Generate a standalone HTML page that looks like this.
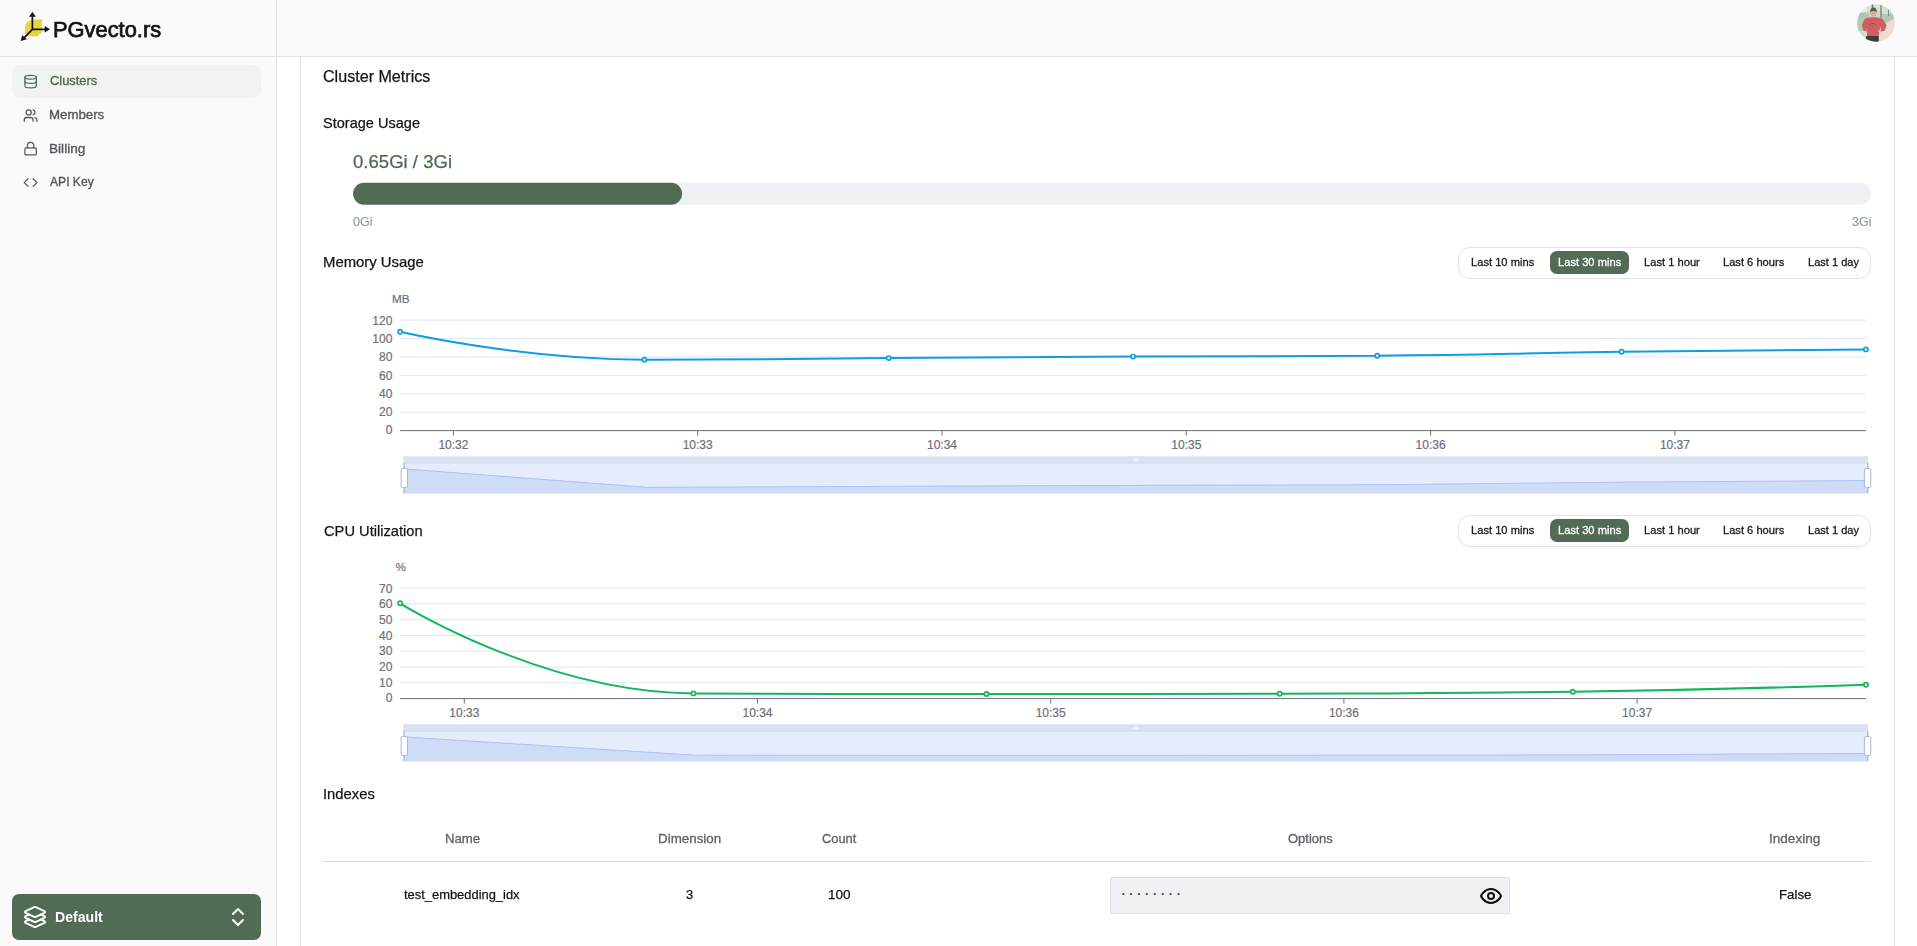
<!DOCTYPE html>
<html lang="en"><head><meta charset="utf-8"><title>PGvecto.rs Cloud - Cluster Metrics</title>
<style>
*{box-sizing:border-box}
html,body{margin:0;padding:0}
body{width:1917px;height:946px;overflow:hidden;background:#fff;position:relative;font-family:"Liberation Sans", sans-serif;}
.t{position:absolute;white-space:nowrap;line-height:1;transform-origin:0 0;display:block}
#hdr{position:absolute;left:0;top:0;width:1917px;height:57px;background:#fafafa;border-bottom:1px solid #e3e3e6}
#side{position:absolute;left:0;top:0;width:277px;height:946px;background:#fafafa;border-right:1px solid #e3e3e6}
#hline{position:absolute;left:0;top:56px;width:1917px;height:1px;background:#e3e3e6}
#panel{position:absolute;left:300px;top:57px;width:1595px;height:900px;background:#fff;border-left:1px solid #e3e3e6;border-right:1px solid #e3e3e6}
#navact{position:absolute;left:12px;top:65px;width:249px;height:33px;border-radius:8px;background:#f2f2f3}
#proj{position:absolute;left:12px;top:894px;width:249px;height:46px;border-radius:7px;background:#516b54}
.grp{position:absolute;left:1458px;width:413px;height:32px;border:1px solid #e2e2e6;border-radius:12px;background:#fff}
.act{position:absolute;left:1550px;width:79px;height:23px;border-radius:7px;background:#516b54}
#thline{position:absolute;left:323px;top:860.5px;width:1548px;height:1px;background:#dedee2}
#inp{position:absolute;left:1110px;top:877px;width:400px;height:36.5px;background:#f0f1f4;border:1px solid #dfe1e7;border-radius:2px}
.dots{position:absolute;left:1120.2px;top:883px;font-size:18px;letter-spacing:1.9px;color:#3f4656;line-height:20px;white-space:nowrap}
svg{position:absolute;overflow:visible}
.ic{fill:none;stroke-width:2;stroke-linecap:round;stroke-linejoin:round}
.ax{font-family:"Liberation Sans", sans-serif;font-size:12px;fill:#6E7079;stroke:#6E7079;stroke-width:0.2px}
</style></head>
<body>
<div id="hdr"></div>
<div id="side"></div>
<div id="hline"></div>
<div id="panel"></div>
<div id="navact"></div>
<div id="proj"></div>
<div class="grp" style="top:247px"></div><div class="act" style="top:251px"></div><div class="grp" style="top:515px"></div><div class="act" style="top:519px"></div>
<div id="thline"></div>
<div id="inp"></div>
<div class="dots">········</div>

<!-- logo -->
<svg style="left:0;top:0" width="60" height="56" viewBox="0 0 60 56">
<polygon points="30.7,20 42.1,19.3 42.1,32.35 37.1,36.4 28.3,36.15 25.2,33.5 25.2,24" fill="#e4d644"/>
<g stroke="#12140f" stroke-width="1.7" fill="none"><path d="M32.4 29.3V16M32.4 29.3H45.5M32.4 29.3L24 37.9"/></g>
<g fill="#12140f"><polygon points="32.4,11.9 29,16.7 35.9,16.7"/><polygon points="50,29.3 44.7,25.9 44.7,32.6"/><polygon points="20.7,40.9 22.1,35.2 26.9,39.2"/></g>
</svg>

<!-- nav icons (lucide) -->
<svg class="ic" style="left:22.90px;top:73.80px" width="15.2" height="15.2" viewBox="0 0 24 24" stroke="#4d6b50"><ellipse cx="12" cy="5" rx="9" ry="3"/><path d="M3 5V19A9 3 0 0 0 21 19V5"/><path d="M3 12A9 3 0 0 0 21 12"/></svg>
<svg class="ic" style="left:22.90px;top:107.50px" width="15.2" height="15.2" viewBox="0 0 24 24" stroke="#55555e"><path d="M16 21v-2a4 4 0 0 0-4-4H6a4 4 0 0 0-4 4v2"/><circle cx="9" cy="7" r="4"/><path d="M22 21v-2a4 4 0 0 0-3-3.87"/><path d="M16 3.13a4 4 0 0 1 0 7.75"/></svg>
<svg class="ic" style="left:22.90px;top:141.20px" width="15.2" height="15.2" viewBox="0 0 24 24" stroke="#55555e"><rect width="18" height="11" x="3" y="11" rx="2" ry="2"/><path d="M7 11V7a5 5 0 0 1 10 0v4"/></svg>
<svg class="ic" style="left:22.90px;top:174.90px" width="15.2" height="15.2" viewBox="0 0 24 24" stroke="#55555e"><polyline points="16 18 22 12 16 6"/><polyline points="8 6 2 12 8 18"/></svg>

<!-- project switcher icons -->
<svg class="ic" style="left:23px;top:905px" width="24" height="24" viewBox="0 0 24 24" stroke="#fff"><path d="m12.83 2.18a2 2 0 0 0-1.66 0L2.6 6.08a1 1 0 0 0 0 1.83l8.58 3.91a2 2 0 0 0 1.66 0l8.58-3.9a1 1 0 0 0 0-1.83Z"/><path d="m6.08 9.5-3.5 1.6a1 1 0 0 0 0 1.81l8.6 3.91a2 2 0 0 0 1.65 0l8.58-3.9a1 1 0 0 0 0-1.83l-3.5-1.59"/><path d="m6.08 14.5-3.5 1.6a1 1 0 0 0 0 1.81l8.6 3.91a2 2 0 0 0 1.65 0l8.58-3.9a1 1 0 0 0 0-1.83l-3.5-1.59"/></svg>
<svg class="ic" style="left:226px;top:905px" width="24" height="24" viewBox="0 0 24 24" stroke="#fff"><path d="m7 15 5 5 5-5"/><path d="m7 9 5-5 5 5"/></svg>

<!-- eye -->
<svg class="ic" style="left:1479px;top:884px" width="24" height="24" viewBox="0 0 24 24" stroke="#111"><path d="M2 12s3-7 10-7 10 7 10 7-3 7-10 7-10-7-10-7Z"/><circle cx="12" cy="12" r="3"/></svg>

<!-- avatar -->
<svg style="left:1857px;top:4.4px" width="38" height="38" viewBox="0 0 38 38">
<defs><clipPath id="av"><circle cx="19" cy="19" r="18.8"/></clipPath>
<filter id="bl" x="-10%" y="-10%" width="120%" height="120%"><feGaussianBlur stdDeviation="0.55"/></filter></defs>
<g clip-path="url(#av)"><g filter="url(#bl)">
<rect x="-2" y="-2" width="42" height="42" fill="#c4d6c5"/>
<rect x="-2" y="-2" width="42" height="9" fill="#d3e0d1"/>
<rect x="-2" y="9" width="14" height="20" fill="#a6c3ac"/>
<rect x="2" y="4" width="8" height="4" fill="#e6ece2"/>
<rect x="24" y="10" width="16" height="9" fill="#a9c4ad"/>
<rect x="25" y="2" width="8" height="8" fill="#cfdccb"/>
<polygon points="40,13 31,18 23,27 21,40 40,40" fill="#ecd9cd"/>
<rect x="-2" y="27" width="13" height="13" fill="#cdd8c8"/>
<rect x="23.400" y="0.500" width="1.100" height="13.500" fill="#59655e"/>
<rect x="14.700" y="0" width="1.500" height="5.200" fill="#59655e"/>
<rect x="31.100" y="5.500" width="0.900" height="6.500" fill="#6a786f"/>
<path d="M6.900 16.200C8 14 12 13.200 16.500 13.200S25 14 26.500 16.200L29.700 21.500L27.600 26.800L23.500 27.800L24.200 22L22.200 27.500L21.700 32.300H10.100L9.900 27.300L8.600 22.500L9.600 27.600L6.200 26.600L4.800 21.300Z" fill="#cf4c53"/>
<path d="M11.700 20.600Q15.600 17.200 19.600 20.600L19.200 21.300Q15.600 18.800 12.100 21.300Z" fill="#5b3f52"/>
<rect x="9.100" y="32" width="12.700" height="7" fill="#27272b"/>
<ellipse cx="22.600" cy="27.300" rx="1.500" ry="1.200" fill="#dcae9b"/>
<ellipse cx="16.500" cy="9.200" rx="3.100" ry="3.500" fill="#d7a590"/>
<path d="M13.200 8.600C13 4.600 15 3.600 16.600 3.400C18.500 3.600 20 4.800 19.800 8.600C19 6.600 14.200 6.600 13.200 8.600Z" fill="#4a423d"/>
</g><rect width="38" height="38" fill="#fff" opacity="0.1"/></g></svg>

<!-- charts -->
<svg style="left:0;top:0" width="1917" height="946" viewBox="0 0 1917 946">
<rect x="353.1" y="182.8" width="1517.9" height="22" rx="11" fill="#f0f1f4"/>
<rect x="353.1" y="182.8" width="329" height="22" rx="11" fill="#516b54"/>
<text x="392.4" y="434.30" text-anchor="end" class="ax">0</text>
<line x1="400.1" x2="1866.0" y1="412.18" y2="412.18" stroke="#E0E6F1" stroke-width="1"/>
<text x="392.4" y="416.03" text-anchor="end" class="ax">20</text>
<line x1="400.1" x2="1866.0" y1="393.77" y2="393.77" stroke="#E0E6F1" stroke-width="1"/>
<text x="392.4" y="397.77" text-anchor="end" class="ax">40</text>
<line x1="400.1" x2="1866.0" y1="375.35" y2="375.35" stroke="#E0E6F1" stroke-width="1"/>
<text x="392.4" y="379.50" text-anchor="end" class="ax">60</text>
<line x1="400.1" x2="1866.0" y1="356.93" y2="356.93" stroke="#E0E6F1" stroke-width="1"/>
<text x="392.4" y="361.23" text-anchor="end" class="ax">80</text>
<line x1="400.1" x2="1866.0" y1="338.52" y2="338.52" stroke="#E0E6F1" stroke-width="1"/>
<text x="392.4" y="342.97" text-anchor="end" class="ax">100</text>
<line x1="400.1" x2="1866.0" y1="320.10" y2="320.10" stroke="#E0E6F1" stroke-width="1"/>
<text x="392.4" y="324.70" text-anchor="end" class="ax">120</text>
<text x="400.7" y="303.40" text-anchor="middle" class="ax" style="font-size:11.7px">MB</text>
<line x1="400.1" x2="1866.0" y1="430.60" y2="430.60" stroke="#6E7079" stroke-width="1"/>
<line x1="453.40" x2="453.40" y1="430.60" y2="435.60" stroke="#6E7079" stroke-width="1"/>
<text x="453.40" y="448.70" text-anchor="middle" class="ax">10:32</text>
<line x1="697.70" x2="697.70" y1="430.60" y2="435.60" stroke="#6E7079" stroke-width="1"/>
<text x="697.70" y="448.70" text-anchor="middle" class="ax">10:33</text>
<line x1="942.00" x2="942.00" y1="430.60" y2="435.60" stroke="#6E7079" stroke-width="1"/>
<text x="942.00" y="448.70" text-anchor="middle" class="ax">10:34</text>
<line x1="1186.30" x2="1186.30" y1="430.60" y2="435.60" stroke="#6E7079" stroke-width="1"/>
<text x="1186.30" y="448.70" text-anchor="middle" class="ax">10:35</text>
<line x1="1430.60" x2="1430.60" y1="430.60" y2="435.60" stroke="#6E7079" stroke-width="1"/>
<text x="1430.60" y="448.70" text-anchor="middle" class="ax">10:36</text>
<line x1="1674.90" x2="1674.90" y1="430.60" y2="435.60" stroke="#6E7079" stroke-width="1"/>
<text x="1674.90" y="448.70" text-anchor="middle" class="ax">10:37</text>
<path d="M400.10,331.80 C400.10,331.80 521.86,359.65 644.40,359.65 C766.16,359.65 766.55,358.86 888.70,358.10 C1010.85,357.34 1010.85,357.20 1133.00,356.60 C1255.15,356.00 1255.16,356.60 1377.30,355.70 C1499.46,354.80 1499.45,353.38 1621.60,351.80 C1743.75,350.23 1865.90,349.40 1865.90,349.40" fill="none" stroke="#0d9de3" stroke-width="2" stroke-linejoin="bevel"/>
<circle cx="400.10" cy="331.80" r="2.1" fill="#fff" stroke="#0d9de3" stroke-width="1.7"/>
<circle cx="644.40" cy="359.65" r="2.1" fill="#fff" stroke="#0d9de3" stroke-width="1.7"/>
<circle cx="888.70" cy="358.10" r="2.1" fill="#fff" stroke="#0d9de3" stroke-width="1.7"/>
<circle cx="1133.00" cy="356.60" r="2.1" fill="#fff" stroke="#0d9de3" stroke-width="1.7"/>
<circle cx="1377.30" cy="355.70" r="2.1" fill="#fff" stroke="#0d9de3" stroke-width="1.7"/>
<circle cx="1621.60" cy="351.80" r="2.1" fill="#fff" stroke="#0d9de3" stroke-width="1.7"/>
<circle cx="1865.90" cy="349.40" r="2.1" fill="#fff" stroke="#0d9de3" stroke-width="1.7"/>
<rect x="403.3" y="456.20" width="1464.90" height="7.00" fill="#dae1f0"/>
<rect x="403.3" y="463.20" width="1464.90" height="29.80" fill="#e5edfd" stroke="#d2dbee" stroke-width="1"/>
<polygon points="403.3,493.00 403.30,468.82 647.45,487.38 891.60,486.34 1135.75,485.34 1379.90,484.74 1624.05,482.15 1868.20,480.55 1868.2,493.00" fill="#cfdcf8"/>
<polyline points="403.30,468.82 647.45,487.38 891.60,486.34 1135.75,485.34 1379.90,484.74 1624.05,482.15 1868.20,480.55" fill="none" stroke="#a9c2f8" stroke-width="1"/>
<rect x="1132.75" y="458.20" width="6" height="3" fill="#eef1f8"/>
<line x1="404.30" x2="404.30" y1="463.20" y2="493.00" stroke="#ACB8D1" stroke-width="1"/>
<rect x="401.10" y="468.50" width="6.4" height="19" rx="1.5" fill="#fff" stroke="#ACB8D1" stroke-width="1"/>
<line x1="1867.60" x2="1867.60" y1="463.20" y2="493.00" stroke="#ACB8D1" stroke-width="1"/>
<rect x="1864.40" y="468.50" width="6.4" height="19" rx="1.5" fill="#fff" stroke="#ACB8D1" stroke-width="1"/>
<text x="392.4" y="702.30" text-anchor="end" class="ax">0</text>
<line x1="400.1" x2="1866.0" y1="682.81" y2="682.81" stroke="#E0E6F1" stroke-width="1"/>
<text x="392.4" y="686.64" text-anchor="end" class="ax">10</text>
<line x1="400.1" x2="1866.0" y1="667.03" y2="667.03" stroke="#E0E6F1" stroke-width="1"/>
<text x="392.4" y="670.99" text-anchor="end" class="ax">20</text>
<line x1="400.1" x2="1866.0" y1="651.24" y2="651.24" stroke="#E0E6F1" stroke-width="1"/>
<text x="392.4" y="655.33" text-anchor="end" class="ax">30</text>
<line x1="400.1" x2="1866.0" y1="635.46" y2="635.46" stroke="#E0E6F1" stroke-width="1"/>
<text x="392.4" y="639.67" text-anchor="end" class="ax">40</text>
<line x1="400.1" x2="1866.0" y1="619.67" y2="619.67" stroke="#E0E6F1" stroke-width="1"/>
<text x="392.4" y="624.01" text-anchor="end" class="ax">50</text>
<line x1="400.1" x2="1866.0" y1="603.89" y2="603.89" stroke="#E0E6F1" stroke-width="1"/>
<text x="392.4" y="608.36" text-anchor="end" class="ax">60</text>
<line x1="400.1" x2="1866.0" y1="588.10" y2="588.10" stroke="#E0E6F1" stroke-width="1"/>
<text x="392.4" y="592.70" text-anchor="end" class="ax">70</text>
<text x="400.7" y="571.40" text-anchor="middle" class="ax" style="font-size:11.7px">%</text>
<line x1="400.1" x2="1866.0" y1="698.60" y2="698.60" stroke="#6E7079" stroke-width="1"/>
<line x1="464.30" x2="464.30" y1="698.60" y2="703.60" stroke="#6E7079" stroke-width="1"/>
<text x="464.30" y="716.70" text-anchor="middle" class="ax">10:33</text>
<line x1="757.50" x2="757.50" y1="698.60" y2="703.60" stroke="#6E7079" stroke-width="1"/>
<text x="757.50" y="716.70" text-anchor="middle" class="ax">10:34</text>
<line x1="1050.70" x2="1050.70" y1="698.60" y2="703.60" stroke="#6E7079" stroke-width="1"/>
<text x="1050.70" y="716.70" text-anchor="middle" class="ax">10:35</text>
<line x1="1343.90" x2="1343.90" y1="698.60" y2="703.60" stroke="#6E7079" stroke-width="1"/>
<text x="1343.90" y="716.70" text-anchor="middle" class="ax">10:36</text>
<line x1="1637.10" x2="1637.10" y1="698.60" y2="703.60" stroke="#6E7079" stroke-width="1"/>
<text x="1637.10" y="716.70" text-anchor="middle" class="ax">10:37</text>
<path d="M400.10,603.30 C400.10,603.30 543.45,692.72 693.40,693.40 C836.65,694.05 839.95,694.05 986.50,694.05 C1133.10,694.05 1133.10,694.05 1279.70,693.70 C1426.25,693.35 1426.27,693.70 1572.80,691.70 C1719.42,689.70 1866.00,684.70 1866.00,684.70" fill="none" stroke="#10b858" stroke-width="2" stroke-linejoin="bevel"/>
<circle cx="400.10" cy="603.30" r="2.1" fill="#fff" stroke="#10b858" stroke-width="1.7"/>
<circle cx="693.40" cy="693.40" r="2.1" fill="#fff" stroke="#10b858" stroke-width="1.7"/>
<circle cx="986.50" cy="694.05" r="2.1" fill="#fff" stroke="#10b858" stroke-width="1.7"/>
<circle cx="1279.70" cy="693.70" r="2.1" fill="#fff" stroke="#10b858" stroke-width="1.7"/>
<circle cx="1572.80" cy="691.70" r="2.1" fill="#fff" stroke="#10b858" stroke-width="1.7"/>
<circle cx="1866.00" cy="684.70" r="2.1" fill="#fff" stroke="#10b858" stroke-width="1.7"/>
<rect x="403.3" y="724.20" width="1464.90" height="7.00" fill="#dae1f0"/>
<rect x="403.3" y="731.20" width="1464.90" height="29.80" fill="#e5edfd" stroke="#d2dbee" stroke-width="1"/>
<polygon points="403.3,761.00 403.30,736.83 696.28,755.24 989.26,755.38 1282.24,755.30 1575.22,754.89 1868.20,753.46 1868.2,761.00" fill="#cfdcf8"/>
<polyline points="403.30,736.83 696.28,755.24 989.26,755.38 1282.24,755.30 1575.22,754.89 1868.20,753.46" fill="none" stroke="#a9c2f8" stroke-width="1"/>
<rect x="1132.75" y="726.20" width="6" height="3" fill="#eef1f8"/>
<line x1="404.30" x2="404.30" y1="731.20" y2="761.00" stroke="#ACB8D1" stroke-width="1"/>
<rect x="401.10" y="736.50" width="6.4" height="19" rx="1.5" fill="#fff" stroke="#ACB8D1" stroke-width="1"/>
<line x1="1867.60" x2="1867.60" y1="731.20" y2="761.00" stroke="#ACB8D1" stroke-width="1"/>
<rect x="1864.40" y="736.50" width="6.4" height="19" rx="1.5" fill="#fff" stroke="#ACB8D1" stroke-width="1"/>
</svg>

<span class="t" style="left:53.24px;top:18.00px;font-size:22.8px;color:#12140f;transform:scaleX(0.9591);-webkit-text-stroke:0.75px #12140f;">PGvecto.rs</span>
<span class="t" style="left:49.80px;top:74.00px;font-size:13.3px;color:#4d6b50;transform:scaleX(0.9691);-webkit-text-stroke:0.35px #4d6b50;">Clusters</span>
<span class="t" style="left:48.80px;top:108.00px;font-size:13.3px;color:#55555e;transform:scaleX(0.9970);-webkit-text-stroke:0.35px #55555e;">Members</span>
<span class="t" style="left:48.78px;top:142.00px;font-size:13.3px;color:#55555e;transform:scaleX(1.0240);-webkit-text-stroke:0.35px #55555e;">Billing</span>
<span class="t" style="left:49.80px;top:175.00px;font-size:13.3px;color:#55555e;transform:scaleX(0.9093);-webkit-text-stroke:0.35px #55555e;">API Key</span>
<span class="t" style="left:54.77px;top:909.00px;font-size:15.2px;color:#ffffff;transform:scaleX(0.9283);font-weight:700;">Default</span>
<span class="t" style="left:323.40px;top:69.00px;font-size:16.9px;color:#141414;transform:scaleX(0.9530);-webkit-text-stroke:0.25px #141414;">Cluster Metrics</span>
<span class="t" style="left:323.40px;top:115.00px;font-size:15.0px;color:#141414;transform:scaleX(0.9697);-webkit-text-stroke:0.25px #141414;">Storage Usage</span>
<span class="t" style="left:353.30px;top:152.00px;font-size:19.0px;color:#4d6b50;transform:scaleX(0.9774);-webkit-text-stroke:0.25px #4d6b50;">0.65Gi / 3Gi</span>
<span class="t" style="left:353.30px;top:216.00px;font-size:12.35px;color:#929aae;transform:scaleX(1.0235);-webkit-text-stroke:0.15px #929aae;">0Gi</span>
<span class="t" style="left:1852.20px;top:216.00px;font-size:12.35px;color:#929aae;transform:scaleX(1.0181);-webkit-text-stroke:0.15px #929aae;">3Gi</span>
<span class="t" style="left:322.81px;top:254.00px;font-size:15.0px;color:#141414;transform:scaleX(0.9920);-webkit-text-stroke:0.25px #141414;">Memory Usage</span>
<span class="t" style="left:323.50px;top:523.00px;font-size:15.0px;color:#141414;transform:scaleX(0.9779);-webkit-text-stroke:0.25px #141414;">CPU Utilization</span>
<span class="t" style="left:1470.80px;top:257.00px;font-size:11.4px;color:#1a1a1a;transform:scaleX(0.9787);-webkit-text-stroke:0.3px #1a1a1a;">Last 10 mins</span>
<span class="t" style="left:1557.70px;top:257.00px;font-size:11.4px;color:#ffffff;transform:scaleX(0.9787);-webkit-text-stroke:0.3px #ffffff;">Last 30 mins</span>
<span class="t" style="left:1644.40px;top:257.00px;font-size:11.4px;color:#1a1a1a;transform:scaleX(0.9790);-webkit-text-stroke:0.3px #1a1a1a;">Last 1 hour</span>
<span class="t" style="left:1723.30px;top:257.00px;font-size:11.4px;color:#1a1a1a;transform:scaleX(0.9763);-webkit-text-stroke:0.3px #1a1a1a;">Last 6 hours</span>
<span class="t" style="left:1807.60px;top:257.00px;font-size:11.4px;color:#1a1a1a;transform:scaleX(0.9704);-webkit-text-stroke:0.3px #1a1a1a;">Last 1 day</span>
<span class="t" style="left:1470.80px;top:525.00px;font-size:11.4px;color:#1a1a1a;transform:scaleX(0.9787);-webkit-text-stroke:0.3px #1a1a1a;">Last 10 mins</span>
<span class="t" style="left:1557.70px;top:525.00px;font-size:11.4px;color:#ffffff;transform:scaleX(0.9787);-webkit-text-stroke:0.3px #ffffff;">Last 30 mins</span>
<span class="t" style="left:1644.40px;top:525.00px;font-size:11.4px;color:#1a1a1a;transform:scaleX(0.9790);-webkit-text-stroke:0.3px #1a1a1a;">Last 1 hour</span>
<span class="t" style="left:1723.30px;top:525.00px;font-size:11.4px;color:#1a1a1a;transform:scaleX(0.9763);-webkit-text-stroke:0.3px #1a1a1a;">Last 6 hours</span>
<span class="t" style="left:1807.60px;top:525.00px;font-size:11.4px;color:#1a1a1a;transform:scaleX(0.9704);-webkit-text-stroke:0.3px #1a1a1a;">Last 1 day</span>
<span class="t" style="left:322.81px;top:786.00px;font-size:15.0px;color:#141414;transform:scaleX(0.9875);-webkit-text-stroke:0.25px #141414;">Indexes</span>
<span class="t" style="left:444.81px;top:832.00px;font-size:13.3px;color:#5e616b;transform:scaleX(0.9920);-webkit-text-stroke:0.3px #5e616b;">Name</span>
<span class="t" style="left:657.89px;top:832.00px;font-size:13.3px;color:#5e616b;transform:scaleX(1.0062);-webkit-text-stroke:0.3px #5e616b;">Dimension</span>
<span class="t" style="left:821.70px;top:832.00px;font-size:13.3px;color:#5e616b;transform:scaleX(0.9668);-webkit-text-stroke:0.3px #5e616b;">Count</span>
<span class="t" style="left:1287.60px;top:832.00px;font-size:13.3px;color:#5e616b;transform:scaleX(0.9767);-webkit-text-stroke:0.3px #5e616b;">Options</span>
<span class="t" style="left:1769.48px;top:832.00px;font-size:13.3px;color:#5e616b;transform:scaleX(1.0209);-webkit-text-stroke:0.3px #5e616b;">Indexing</span>
<span class="t" style="left:404.40px;top:888.00px;font-size:13.3px;color:#141414;transform:scaleX(0.9709);-webkit-text-stroke:0.25px #141414;">test_embedding_idx</span>
<span class="t" style="left:686.20px;top:888.00px;font-size:13.3px;color:#141414;transform:scaleX(0.9714);-webkit-text-stroke:0.25px #141414;">3</span>
<span class="t" style="left:827.78px;top:888.00px;font-size:13.3px;color:#141414;transform:scaleX(1.0197);-webkit-text-stroke:0.25px #141414;">100</span>
<span class="t" style="left:1778.90px;top:888.00px;font-size:13.3px;color:#141414;transform:scaleX(0.9994);-webkit-text-stroke:0.25px #141414;">False</span>
</body></html>
